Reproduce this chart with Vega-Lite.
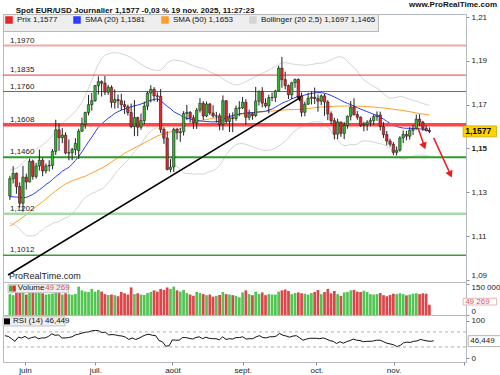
{
"$schema":"https://vega.github.io/schema/vega-lite/v6.json",
"padding":0,
"background":"#ffffff",
"spacing":0,
"bounds":"flush",
"title":{"text":"Spot EUR/USD Journalier 1,1577 -0,03 % 19 nov. 2025, 11:27:23","anchor":"start","frame":"bounds","fontSize":8,"fontWeight":"bold","font":"Liberation Sans","color":"#111111","dx":15,"offset":-14},
"config":{"font":"Liberation Sans","view":{"stroke":"#b4bac2","strokeWidth":1},"axis":{"labelFont":"Liberation Sans","labelFontSize":8,"labelColor":"#222222","tickColor":"#8a8f96","domainColor":"#b4bac2","tickSize":3,"labelPadding":2,"grid":false,"title":null}},
"resolve":{"scale":{"color":"independent","x":"independent","y":"independent"},"legend":{"color":"independent"}},
"datasets":{
"levels":[{"lvl":1.197,"lab":"1,1970"},{"lvl":1.1835,"lab":"1,1835"},{"lvl":1.176,"lab":"1,1760"},{"lvl":1.1608,"lab":"1,1608"},{"lvl":1.146,"lab":"1,1460"},{"lvl":1.1202,"lab":"1,1202"},{"lvl":1.1012,"lab":"1,1012"}],
"d":[
{"i":-6,"o":1.1283,"h":1.1375,"l":1.1265,"c":1.1362,"v":100000,"r":60,"s20":1.128,"s50":1.1145,"bu":1.14,"bl":1.116},
{"i":-5,"o":1.1362,"h":1.1419,"l":1.134,"c":1.1386,"v":95000,"r":58,"s20":1.1279,"s50":1.1155,"bu":1.1405,"bl":1.1153},
{"i":-4,"o":1.1386,"h":1.139,"l":1.1293,"c":1.1326,"v":108000,"r":52,"s20":1.1278,"s50":1.1165,"bu":1.141,"bl":1.1146},
{"i":-3,"o":1.1326,"h":1.1345,"l":1.123,"c":1.125,"v":105000,"r":45,"s20":1.1276,"s50":1.1175,"bu":1.142,"bl":1.1132},
{"i":-2,"o":1.125,"h":1.142,"l":1.1211,"c":1.1369,"v":110000,"r":56,"s20":1.1275,"s50":1.1186,"bu":1.1435,"bl":1.1115},
{"i":-1,"o":1.1369,"h":1.1385,"l":1.1312,"c":1.1347,"v":98000,"r":54,"s20":1.1276,"s50":1.1197,"bu":1.145,"bl":1.1102},
{"i":0,"o":1.1347,"h":1.1454,"l":1.1345,"c":1.1442,"v":112000,"r":58,"s20":1.1283,"s50":1.121,"bu":1.1465,"bl":1.1101},
{"i":1,"o":1.1442,"h":1.1449,"l":1.1357,"c":1.1372,"v":110000,"r":52,"s20":1.129,"s50":1.1222,"bu":1.148,"bl":1.11},
{"i":2,"o":1.1372,"h":1.1434,"l":1.1362,"c":1.142,"v":105000,"r":55,"s20":1.13,"s50":1.1234,"bu":1.1495,"bl":1.1105},
{"i":3,"o":1.142,"h":1.1495,"l":1.1399,"c":1.1446,"v":108000,"r":57,"s20":1.1312,"s50":1.1246,"bu":1.1505,"bl":1.1119},
{"i":4,"o":1.1446,"h":1.1456,"l":1.1373,"c":1.1397,"v":104000,"r":52,"s20":1.1322,"s50":1.1257,"bu":1.1515,"bl":1.1129},
{"i":5,"o":1.1397,"h":1.1431,"l":1.1385,"c":1.142,"v":98000,"r":54,"s20":1.1335,"s50":1.127,"bu":1.1528,"bl":1.1142},
{"i":6,"o":1.142,"h":1.1446,"l":1.1395,"c":1.1423,"v":100000,"r":54,"s20":1.1345,"s50":1.1282,"bu":1.1542,"bl":1.1148},
{"i":7,"o":1.1423,"h":1.1497,"l":1.1405,"c":1.1487,"v":103000,"r":58,"s20":1.1358,"s50":1.1294,"bu":1.1558,"bl":1.1158},
{"i":8,"o":1.1487,"h":1.1631,"l":1.147,"c":1.1585,"v":112000,"r":65,"s20":1.1371,"s50":1.1306,"bu":1.158,"bl":1.1162},
{"i":9,"o":1.1585,"h":1.1614,"l":1.1489,"c":1.1549,"v":108000,"r":61,"s20":1.1383,"s50":1.1318,"bu":1.16,"bl":1.1166},
{"i":10,"o":1.1549,"h":1.1593,"l":1.1524,"c":1.1561,"v":98000,"r":62,"s20":1.1396,"s50":1.1328,"bu":1.1615,"bl":1.1177},
{"i":11,"o":1.1561,"h":1.1574,"l":1.1473,"c":1.1479,"v":104000,"r":54,"s20":1.1405,"s50":1.1338,"bu":1.1628,"bl":1.1182},
{"i":12,"o":1.1479,"h":1.1541,"l":1.1446,"c":1.148,"v":100000,"r":54,"s20":1.1414,"s50":1.1345,"bu":1.164,"bl":1.1188},
{"i":13,"o":1.148,"h":1.1503,"l":1.1446,"c":1.1495,"v":97000,"r":55,"s20":1.1428,"s50":1.1352,"bu":1.1655,"bl":1.1201},
{"i":14,"o":1.1495,"h":1.1547,"l":1.1469,"c":1.1523,"v":101000,"r":57,"s20":1.1445,"s50":1.1358,"bu":1.167,"bl":1.122},
{"i":15,"o":1.149,"h":1.159,"l":1.1452,"c":1.1579,"v":136000,"r":62,"s20":1.1463,"s50":1.1363,"bu":1.169,"bl":1.1236},
{"i":16,"o":1.1579,"h":1.1641,"l":1.1575,"c":1.161,"v":118000,"r":64,"s20":1.1485,"s50":1.1368,"bu":1.171,"bl":1.126},
{"i":17,"o":1.161,"h":1.1668,"l":1.159,"c":1.1664,"v":112000,"r":67,"s20":1.1508,"s50":1.1373,"bu":1.174,"bl":1.1276},
{"i":18,"o":1.1664,"h":1.1744,"l":1.1651,"c":1.17,"v":110000,"r":69,"s20":1.153,"s50":1.138,"bu":1.1775,"bl":1.1285},
{"i":19,"o":1.17,"h":1.1754,"l":1.1673,"c":1.1718,"v":125000,"r":70,"s20":1.1552,"s50":1.1388,"bu":1.181,"bl":1.1294},
{"i":20,"o":1.1718,"h":1.1789,"l":1.1713,"c":1.1787,"v":112000,"r":73,"s20":1.1575,"s50":1.1395,"bu":1.185,"bl":1.13},
{"i":21,"o":1.1787,"h":1.1829,"l":1.1746,"c":1.1805,"v":120000,"r":74,"s20":1.1597,"s50":1.1403,"bu":1.1885,"bl":1.1309},
{"i":22,"o":1.1805,"h":1.1811,"l":1.1737,"c":1.1798,"v":112000,"r":73,"s20":1.1612,"s50":1.141,"bu":1.191,"bl":1.1314},
{"i":23,"o":1.1798,"h":1.1831,"l":1.1744,"c":1.1757,"v":100000,"r":68,"s20":1.1625,"s50":1.1418,"bu":1.1925,"bl":1.1325},
{"i":24,"o":1.1757,"h":1.179,"l":1.1745,"c":1.1779,"v":96000,"r":69,"s20":1.1638,"s50":1.1428,"bu":1.1932,"bl":1.1344},
{"i":25,"o":1.1779,"h":1.1788,"l":1.1686,"c":1.171,"v":98000,"r":62,"s20":1.1648,"s50":1.1438,"bu":1.1936,"bl":1.136},
{"i":26,"o":1.171,"h":1.177,"l":1.1682,"c":1.1723,"v":95000,"r":63,"s20":1.166,"s50":1.1448,"bu":1.1937,"bl":1.1383},
{"i":27,"o":1.1723,"h":1.1746,"l":1.1684,"c":1.1718,"v":90000,"r":62,"s20":1.1668,"s50":1.1458,"bu":1.1936,"bl":1.14},
{"i":28,"o":1.1718,"h":1.175,"l":1.1675,"c":1.17,"v":110000,"r":60,"s20":1.1675,"s50":1.1467,"bu":1.1933,"bl":1.1417},
{"i":29,"o":1.17,"h":1.1719,"l":1.1657,"c":1.169,"v":104000,"r":59,"s20":1.168,"s50":1.1478,"bu":1.1928,"bl":1.1432},
{"i":30,"o":1.169,"h":1.17,"l":1.165,"c":1.1664,"v":98000,"r":56,"s20":1.1685,"s50":1.1486,"bu":1.1922,"bl":1.1448},
{"i":31,"o":1.1664,"h":1.1705,"l":1.1592,"c":1.16,"v":132000,"r":50,"s20":1.169,"s50":1.1494,"bu":1.1915,"bl":1.1465},
{"i":32,"o":1.16,"h":1.1721,"l":1.1556,"c":1.1641,"v":100000,"r":54,"s20":1.1695,"s50":1.1502,"bu":1.1905,"bl":1.1485},
{"i":33,"o":1.1641,"h":1.1645,"l":1.1556,"c":1.1597,"v":104000,"r":50,"s20":1.1698,"s50":1.151,"bu":1.1895,"bl":1.1501},
{"i":34,"o":1.1597,"h":1.166,"l":1.1585,"c":1.1627,"v":98000,"r":53,"s20":1.1703,"s50":1.1517,"bu":1.1885,"bl":1.1521},
{"i":35,"o":1.1627,"h":1.1714,"l":1.161,"c":1.1693,"v":96000,"r":58,"s20":1.1708,"s50":1.1525,"bu":1.1875,"bl":1.1541},
{"i":36,"o":1.1693,"h":1.176,"l":1.1675,"c":1.1753,"v":105000,"r":62,"s20":1.1716,"s50":1.1533,"bu":1.1868,"bl":1.1564},
{"i":37,"o":1.1753,"h":1.1789,"l":1.171,"c":1.177,"v":110000,"r":64,"s20":1.172,"s50":1.1541,"bu":1.1862,"bl":1.1578},
{"i":38,"o":1.177,"h":1.178,"l":1.1715,"c":1.174,"v":118000,"r":61,"s20":1.1724,"s50":1.1549,"bu":1.1858,"bl":1.159},
{"i":39,"o":1.174,"h":1.1756,"l":1.1712,"c":1.1738,"v":112000,"r":60,"s20":1.1726,"s50":1.1557,"bu":1.1856,"bl":1.1596},
{"i":40,"o":1.1738,"h":1.1771,"l":1.1571,"c":1.1587,"v":125000,"r":47,"s20":1.1718,"s50":1.1563,"bu":1.1858,"bl":1.1578},
{"i":41,"o":1.1587,"h":1.1597,"l":1.1521,"c":1.1547,"v":120000,"r":44,"s20":1.1705,"s50":1.1568,"bu":1.187,"bl":1.154},
{"i":42,"o":1.1547,"h":1.1578,"l":1.14,"c":1.1404,"v":132000,"r":32,"s20":1.1692,"s50":1.1572,"bu":1.189,"bl":1.1494},
{"i":43,"o":1.1404,"h":1.1451,"l":1.1391,"c":1.1415,"v":125000,"r":33,"s20":1.1682,"s50":1.1576,"bu":1.19,"bl":1.1464},
{"i":44,"o":1.1415,"h":1.1595,"l":1.1392,"c":1.1587,"v":136000,"r":49,"s20":1.1668,"s50":1.158,"bu":1.1904,"bl":1.1432},
{"i":45,"o":1.1587,"h":1.1594,"l":1.154,"c":1.1572,"v":118000,"r":48,"s20":1.166,"s50":1.1585,"bu":1.1902,"bl":1.1418},
{"i":46,"o":1.1572,"h":1.1594,"l":1.153,"c":1.1576,"v":112000,"r":48,"s20":1.1652,"s50":1.159,"bu":1.19,"bl":1.1404},
{"i":47,"o":1.1576,"h":1.167,"l":1.1559,"c":1.166,"v":120000,"r":55,"s20":1.1642,"s50":1.1598,"bu":1.1896,"bl":1.1388},
{"i":48,"o":1.166,"h":1.1699,"l":1.163,"c":1.1665,"v":105000,"r":55,"s20":1.1638,"s50":1.1604,"bu":1.189,"bl":1.1386},
{"i":49,"o":1.1665,"h":1.167,"l":1.1617,"c":1.164,"v":98000,"r":53,"s20":1.1635,"s50":1.1609,"bu":1.1884,"bl":1.1386},
{"i":50,"o":1.164,"h":1.1653,"l":1.1589,"c":1.1617,"v":92000,"r":51,"s20":1.163,"s50":1.1614,"bu":1.1878,"bl":1.1382},
{"i":51,"o":1.1617,"h":1.1685,"l":1.1589,"c":1.1675,"v":110000,"r":55,"s20":1.1628,"s50":1.1619,"bu":1.1872,"bl":1.1384},
{"i":52,"o":1.1675,"h":1.173,"l":1.1664,"c":1.1706,"v":105000,"r":57,"s20":1.1626,"s50":1.1624,"bu":1.1868,"bl":1.1384},
{"i":53,"o":1.1706,"h":1.1716,"l":1.163,"c":1.1648,"v":100000,"r":52,"s20":1.1624,"s50":1.1629,"bu":1.1866,"bl":1.1382},
{"i":54,"o":1.1648,"h":1.1714,"l":1.1643,"c":1.1703,"v":95000,"r":56,"s20":1.1623,"s50":1.1632,"bu":1.1858,"bl":1.1388},
{"i":55,"o":1.1703,"h":1.1708,"l":1.1652,"c":1.1662,"v":98000,"r":53,"s20":1.1622,"s50":1.1635,"bu":1.185,"bl":1.1394},
{"i":56,"o":1.1662,"h":1.1697,"l":1.1641,"c":1.1648,"v":88000,"r":52,"s20":1.1621,"s50":1.1638,"bu":1.1843,"bl":1.1399},
{"i":57,"o":1.1648,"h":1.1667,"l":1.1618,"c":1.1649,"v":92000,"r":52,"s20":1.1622,"s50":1.164,"bu":1.1836,"bl":1.1408},
{"i":58,"o":1.1649,"h":1.166,"l":1.1583,"c":1.1609,"v":96000,"r":49,"s20":1.1625,"s50":1.1642,"bu":1.1828,"bl":1.1422},
{"i":59,"o":1.1609,"h":1.1742,"l":1.1583,"c":1.1718,"v":110000,"r":57,"s20":1.1632,"s50":1.1644,"bu":1.1818,"bl":1.1446},
{"i":60,"o":1.1718,"h":1.172,"l":1.1613,"c":1.1623,"v":100000,"r":50,"s20":1.164,"s50":1.1646,"bu":1.1808,"bl":1.1472},
{"i":61,"o":1.1623,"h":1.166,"l":1.1575,"c":1.164,"v":98000,"r":52,"s20":1.1645,"s50":1.1648,"bu":1.18,"bl":1.149},
{"i":62,"o":1.164,"h":1.1665,"l":1.1574,"c":1.1637,"v":95000,"r":51,"s20":1.165,"s50":1.165,"bu":1.1794,"bl":1.1506},
{"i":63,"o":1.1637,"h":1.1696,"l":1.1626,"c":1.1683,"v":92000,"r":55,"s20":1.1654,"s50":1.1653,"bu":1.179,"bl":1.1518},
{"i":64,"o":1.1683,"h":1.1716,"l":1.1647,"c":1.1685,"v":85000,"r":55,"s20":1.1657,"s50":1.1655,"bu":1.1792,"bl":1.1522},
{"i":65,"o":1.1685,"h":1.1735,"l":1.168,"c":1.1711,"v":108000,"r":57,"s20":1.166,"s50":1.1657,"bu":1.1798,"bl":1.1522},
{"i":66,"o":1.1711,"h":1.1725,"l":1.1608,"c":1.1642,"v":118000,"r":51,"s20":1.1662,"s50":1.1659,"bu":1.1805,"bl":1.1519},
{"i":67,"o":1.1642,"h":1.1677,"l":1.1629,"c":1.1658,"v":100000,"r":52,"s20":1.1663,"s50":1.1661,"bu":1.1813,"bl":1.1513},
{"i":68,"o":1.1658,"h":1.1665,"l":1.1631,"c":1.165,"v":95000,"r":52,"s20":1.1664,"s50":1.1662,"bu":1.182,"bl":1.1508},
{"i":69,"o":1.165,"h":1.1781,"l":1.1643,"c":1.1716,"v":112000,"r":57,"s20":1.1665,"s50":1.1664,"bu":1.1828,"bl":1.1502},
{"i":70,"o":1.1716,"h":1.1764,"l":1.1696,"c":1.1761,"v":100000,"r":60,"s20":1.1667,"s50":1.1666,"bu":1.1836,"bl":1.1498},
{"i":71,"o":1.1761,"h":1.178,"l":1.1688,"c":1.1707,"v":108000,"r":55,"s20":1.1668,"s50":1.1667,"bu":1.1843,"bl":1.1493},
{"i":72,"o":1.1707,"h":1.1729,"l":1.1686,"c":1.1694,"v":95000,"r":54,"s20":1.167,"s50":1.1669,"bu":1.185,"bl":1.149},
{"i":73,"o":1.1694,"h":1.1745,"l":1.166,"c":1.1732,"v":100000,"r":57,"s20":1.1675,"s50":1.167,"bu":1.1858,"bl":1.1492},
{"i":74,"o":1.1732,"h":1.1755,"l":1.1715,"c":1.1733,"v":98000,"r":57,"s20":1.168,"s50":1.1671,"bu":1.1866,"bl":1.1494},
{"i":75,"o":1.1733,"h":1.1768,"l":1.1712,"c":1.1762,"v":98000,"r":59,"s20":1.1688,"s50":1.1672,"bu":1.1874,"bl":1.1502},
{"i":76,"o":1.1762,"h":1.1878,"l":1.1759,"c":1.1867,"v":112000,"r":66,"s20":1.1697,"s50":1.1674,"bu":1.1884,"bl":1.151},
{"i":77,"o":1.1867,"h":1.1918,"l":1.1777,"c":1.1814,"v":118000,"r":61,"s20":1.1706,"s50":1.1675,"bu":1.189,"bl":1.1522},
{"i":78,"o":1.1814,"h":1.1851,"l":1.177,"c":1.1787,"v":122000,"r":59,"s20":1.1713,"s50":1.1676,"bu":1.1892,"bl":1.1534},
{"i":79,"o":1.1787,"h":1.1792,"l":1.1726,"c":1.1745,"v":115000,"r":56,"s20":1.1718,"s50":1.1677,"bu":1.1889,"bl":1.1547},
{"i":80,"o":1.1745,"h":1.1805,"l":1.1725,"c":1.18,"v":100000,"r":59,"s20":1.1727,"s50":1.1677,"bu":1.1886,"bl":1.1568},
{"i":81,"o":1.18,"h":1.1819,"l":1.1777,"c":1.1815,"v":105000,"r":60,"s20":1.1732,"s50":1.1678,"bu":1.1884,"bl":1.158},
{"i":82,"o":1.1815,"h":1.182,"l":1.1729,"c":1.1738,"v":108000,"r":54,"s20":1.1737,"s50":1.1678,"bu":1.1882,"bl":1.1592},
{"i":83,"o":1.1738,"h":1.1755,"l":1.1645,"c":1.1665,"v":104000,"r":48,"s20":1.174,"s50":1.1679,"bu":1.1881,"bl":1.1599},
{"i":84,"o":1.1665,"h":1.1714,"l":1.1647,"c":1.1702,"v":102000,"r":51,"s20":1.1744,"s50":1.168,"bu":1.188,"bl":1.1608},
{"i":85,"o":1.1702,"h":1.1754,"l":1.1699,"c":1.1729,"v":98000,"r":53,"s20":1.1748,"s50":1.1682,"bu":1.1881,"bl":1.1615},
{"i":86,"o":1.1729,"h":1.176,"l":1.1701,"c":1.1734,"v":105000,"r":53,"s20":1.1751,"s50":1.1684,"bu":1.1883,"bl":1.1619},
{"i":87,"o":1.1734,"h":1.1778,"l":1.1703,"c":1.1728,"v":110000,"r":53,"s20":1.1754,"s50":1.1686,"bu":1.1886,"bl":1.1622},
{"i":88,"o":1.1728,"h":1.1746,"l":1.1668,"c":1.1716,"v":120000,"r":52,"s20":1.1755,"s50":1.1688,"bu":1.1889,"bl":1.1621},
{"i":89,"o":1.1716,"h":1.1747,"l":1.1698,"c":1.174,"v":100000,"r":54,"s20":1.1755,"s50":1.1689,"bu":1.1889,"bl":1.1621},
{"i":90,"o":1.174,"h":1.175,"l":1.1649,"c":1.1712,"v":110000,"r":51,"s20":1.1752,"s50":1.169,"bu":1.1892,"bl":1.1612},
{"i":91,"o":1.1712,"h":1.1721,"l":1.1629,"c":1.1658,"v":125000,"r":47,"s20":1.1748,"s50":1.1691,"bu":1.1898,"bl":1.1598},
{"i":92,"o":1.1658,"h":1.1669,"l":1.1611,"c":1.1627,"v":104000,"r":45,"s20":1.1742,"s50":1.1692,"bu":1.1904,"bl":1.158},
{"i":93,"o":1.1627,"h":1.164,"l":1.1541,"c":1.1565,"v":115000,"r":39,"s20":1.1735,"s50":1.1692,"bu":1.1912,"bl":1.1558},
{"i":94,"o":1.1565,"h":1.1636,"l":1.1542,"c":1.1621,"v":100000,"r":44,"s20":1.1728,"s50":1.1693,"bu":1.1918,"bl":1.1538},
{"i":95,"o":1.1621,"h":1.1622,"l":1.1553,"c":1.1569,"v":92000,"r":40,"s20":1.172,"s50":1.1693,"bu":1.1919,"bl":1.1521},
{"i":96,"o":1.1569,"h":1.1621,"l":1.1542,"c":1.1605,"v":108000,"r":44,"s20":1.1712,"s50":1.1694,"bu":1.1912,"bl":1.1512},
{"i":97,"o":1.1605,"h":1.1651,"l":1.159,"c":1.1647,"v":110000,"r":47,"s20":1.1706,"s50":1.1694,"bu":1.1898,"bl":1.1514},
{"i":98,"o":1.1647,"h":1.1717,"l":1.1628,"c":1.1689,"v":118000,"r":51,"s20":1.17,"s50":1.1694,"bu":1.1882,"bl":1.1518},
{"i":99,"o":1.1689,"h":1.1729,"l":1.165,"c":1.1655,"v":120000,"r":48,"s20":1.1693,"s50":1.1694,"bu":1.187,"bl":1.1516},
{"i":100,"o":1.1655,"h":1.1671,"l":1.1631,"c":1.1643,"v":112000,"r":47,"s20":1.1686,"s50":1.1693,"bu":1.1852,"bl":1.152},
{"i":101,"o":1.1643,"h":1.1646,"l":1.1598,"c":1.1605,"v":110000,"r":44,"s20":1.168,"s50":1.1693,"bu":1.183,"bl":1.153},
{"i":102,"o":1.1605,"h":1.1622,"l":1.1578,"c":1.161,"v":116000,"r":45,"s20":1.1674,"s50":1.1692,"bu":1.1813,"bl":1.1535},
{"i":103,"o":1.161,"h":1.1629,"l":1.1581,"c":1.162,"v":110000,"r":45,"s20":1.1668,"s50":1.1691,"bu":1.1802,"bl":1.1534},
{"i":104,"o":1.162,"h":1.164,"l":1.1601,"c":1.1627,"v":100000,"r":46,"s20":1.1662,"s50":1.169,"bu":1.1792,"bl":1.1532},
{"i":105,"o":1.1627,"h":1.1656,"l":1.1608,"c":1.1645,"v":98000,"r":48,"s20":1.1656,"s50":1.1689,"bu":1.1784,"bl":1.1528},
{"i":106,"o":1.1645,"h":1.1669,"l":1.1626,"c":1.1653,"v":100000,"r":48,"s20":1.165,"s50":1.1688,"bu":1.1775,"bl":1.1525},
{"i":107,"o":1.1653,"h":1.1668,"l":1.1582,"c":1.16,"v":105000,"r":44,"s20":1.1643,"s50":1.1686,"bu":1.1764,"bl":1.1522},
{"i":108,"o":1.16,"h":1.162,"l":1.1548,"c":1.1563,"v":95000,"r":40,"s20":1.1634,"s50":1.1685,"bu":1.175,"bl":1.1518},
{"i":109,"o":1.1563,"h":1.158,"l":1.1514,"c":1.1534,"v":90000,"r":38,"s20":1.1624,"s50":1.1683,"bu":1.1738,"bl":1.151},
{"i":110,"o":1.1534,"h":1.1545,"l":1.1508,"c":1.1519,"v":96000,"r":36,"s20":1.1614,"s50":1.1681,"bu":1.1729,"bl":1.1499},
{"i":111,"o":1.1519,"h":1.1529,"l":1.1469,"c":1.1482,"v":102000,"r":31,"s20":1.1605,"s50":1.1679,"bu":1.173,"bl":1.148},
{"i":112,"o":1.1482,"h":1.1509,"l":1.1468,"c":1.1492,"v":100000,"r":34,"s20":1.16,"s50":1.1677,"bu":1.1734,"bl":1.1466},
{"i":113,"o":1.1492,"h":1.1556,"l":1.1485,"c":1.1548,"v":104000,"r":41,"s20":1.1596,"s50":1.1675,"bu":1.1737,"bl":1.1455},
{"i":114,"o":1.1548,"h":1.1582,"l":1.1524,"c":1.1564,"v":100000,"r":43,"s20":1.1593,"s50":1.1673,"bu":1.1735,"bl":1.1451},
{"i":115,"o":1.1564,"h":1.158,"l":1.1537,"c":1.1556,"v":94000,"r":42,"s20":1.1592,"s50":1.167,"bu":1.173,"bl":1.1454},
{"i":116,"o":1.1556,"h":1.1597,"l":1.154,"c":1.1583,"v":98000,"r":45,"s20":1.1592,"s50":1.1668,"bu":1.1724,"bl":1.146},
{"i":117,"o":1.1583,"h":1.1608,"l":1.1561,"c":1.159,"v":102000,"r":46,"s20":1.1592,"s50":1.1665,"bu":1.172,"bl":1.1464},
{"i":118,"o":1.159,"h":1.1655,"l":1.1585,"c":1.1634,"v":104000,"r":50,"s20":1.1592,"s50":1.1662,"bu":1.1716,"bl":1.1468},
{"i":119,"o":1.1634,"h":1.1656,"l":1.1602,"c":1.162,"v":100000,"r":48,"s20":1.159,"s50":1.1659,"bu":1.171,"bl":1.147},
{"i":120,"o":1.162,"h":1.1626,"l":1.158,"c":1.1592,"v":104000,"r":46,"s20":1.1587,"s50":1.1657,"bu":1.1705,"bl":1.1469},
{"i":121,"o":1.1592,"h":1.1605,"l":1.1577,"c":1.1582,"v":102000,"r":45,"s20":1.1584,"s50":1.1655,"bu":1.1701,"bl":1.1467},
{"i":122,"o":1.1582,"h":1.1596,"l":1.157,"c":1.1577,"v":49269,"r":46.449,"s20":1.1581,"s50":1.1653,"bu":1.1697,"bl":1.1465}
]},
"vconcat":[
{
"width":463,"height":268,
"title":{"text":"www.ProRealTime.com","anchor":"end","frame":"bounds","fontSize":8,"fontWeight":"bold","color":"#111111","offset":4},
"data":{"name":"d"},
"layer":[
{"transform":[{"fold":["bu","bl","s50","s20"],"as":["serie","val"]}],
 "mark":{"type":"line","strokeWidth":1},
 "encoding":{
  "x":{"field":"i","type":"quantitative","scale":{"domain":[-6.57,131.64],"nice":false,"zero":false},"axis":null},
  "y":{"field":"val","type":"quantitative","scale":{"domain":[1.089,1.2114],"nice":false,"zero":false},
       "axis":{"orient":"right","values":[1.09,1.1,1.11,1.12,1.13,1.14,1.15,1.16,1.17,1.18,1.19,1.2,1.21],
               "labelExpr":"replace(format(datum.value,'.2~f'),'.',',')",
               "labelBaseline":{"condition":{"test":"datum.value==1.09","value":"bottom"},"value":"middle"},
               "labelFontWeight":{"condition":{"test":"datum.value==1.2||datum.value==1.15||datum.value==1.1","value":"bold"},"value":"normal"}}},
  "color":{"field":"serie","type":"nominal",
    "scale":{"domain":["prix","s20","s50","bu","bl"],"range":["#e3262a","#2a3cff","#ff9d2a","#d4d4d4","#d4d4d4"]},
    "legend":{"orient":"top-left","direction":"horizontal","title":null,"values":["prix","s20","s50","bu"],
      "labelExpr":"datum.value=='prix'?'Prix 1,1577':datum.value=='s20'?'SMA (20) 1,1581':datum.value=='s50'?'SMA (50) 1,1653':'Bollinger (20 2,5) 1,1697 1,1465'",
      "symbolType":"square","symbolSize":16,"symbolStrokeWidth":3.5,"fillColor":"#eeeeee","strokeColor":"#b8b8b8","padding":2,"offset":0,
      "labelFontSize":8,"labelColor":"#111111","columnPadding":10,"labelOffset":4}}
 }},
{"data":{"values":[{}]},"mark":{"type":"rule","color":"#f4a6a6","strokeWidth":2},"encoding":{"y":{"datum":1.197}}},
{"data":{"values":[{}]},"mark":{"type":"rule","color":"#e03a3a","strokeWidth":1},"encoding":{"y":{"datum":1.1835}}},
{"data":{"values":[{}]},"mark":{"type":"rule","color":"#e03a3a","strokeWidth":1},"encoding":{"y":{"datum":1.176}}},
{"data":{"values":[{}]},"mark":{"type":"rule","color":"#ff4545","strokeWidth":3.5},"encoding":{"y":{"datum":1.1608}}},
{"data":{"values":[{}]},"mark":{"type":"rule","color":"#2b9b2b","strokeWidth":2},"encoding":{"y":{"datum":1.146}}},
{"data":{"values":[{}]},"mark":{"type":"rule","color":"#a6d9a6","strokeWidth":2.5},"encoding":{"y":{"datum":1.1202}}},
{"data":{"values":[{}]},"mark":{"type":"rule","color":"#3d9a3d","strokeWidth":1.5},"encoding":{"y":{"datum":1.1012}}},
{"data":{"name":"levels"},"mark":{"type":"text","align":"left","baseline":"bottom","dx":2,"dy":-1,"fontSize":8,"color":"#222222"},
 "encoding":{"x":{"datum":-6.57},"y":{"field":"lvl","type":"quantitative"},"text":{"field":"lab"}}},
{"data":{"values":[{}]},"mark":{"type":"rule","color":"#000000","strokeWidth":1.5},"encoding":{"x":{"datum":-6.57},"y":{"datum":1.0922},"x2":{"datum":82.1},"y2":{"datum":1.1728}}},
{"data":{"values":[{}]},"mark":{"type":"point","shape":"triangle-right","filled":true,"color":"#000000","opacity":1,"size":45,"angle":-31},"encoding":{"x":{"datum":82.7},"y":{"datum":1.1733}}},
{"mark":{"type":"rule","color":"#222222","strokeWidth":1},
 "encoding":{"x":{"field":"i","type":"quantitative"},"y":{"field":"l","type":"quantitative"},"y2":{"field":"h"}}},
{"mark":{"type":"bar","size":2.4,"stroke":"#222222","strokeWidth":0.6},
 "encoding":{"x":{"field":"i","type":"quantitative"},"y":{"field":"o","type":"quantitative"},"y2":{"field":"c"},
  "color":{"condition":{"test":"datum.c>=datum.o","value":"#2fbd2f"},"value":"#e8262a"}}},
{"data":{"values":[{}]},"mark":{"type":"rule","color":"#ee1c1c","strokeWidth":1.5},"encoding":{"x":{"datum":118.5},"y":{"datum":1.1594},"x2":{"datum":120.3},"y2":{"datum":1.1518}}},
{"data":{"values":[{}]},"mark":{"type":"point","shape":"triangle-right","filled":true,"color":"#ee1c1c","opacity":1,"size":60,"angle":70},"encoding":{"x":{"datum":120.4},"y":{"datum":1.1511}}},
{"data":{"values":[{}]},"mark":{"type":"rule","color":"#ee1c1c","strokeWidth":1.5},"encoding":{"x":{"datum":123.3},"y":{"datum":1.1548},"x2":{"datum":128.3},"y2":{"datum":1.1385}}},
{"data":{"values":[{}]},"mark":{"type":"point","shape":"triangle-right","filled":true,"color":"#ee1c1c","opacity":1,"size":60,"angle":65},"encoding":{"x":{"datum":128.4},"y":{"datum":1.1381}}},
{"data":{"values":[{}]},"mark":{"type":"text","align":"left","baseline":"bottom","dx":1,"dy":-1,"fontSize":9,"color":"#222222"},"encoding":{"x":{"datum":-6.57},"y":{"datum":1.089},"text":{"value":"ProRealTime.com"}}},
{"data":{"values":[{}]},"mark":{"type":"rect","fill":"#ffd400","stroke":"#c9a200","strokeWidth":0.8},"encoding":{"x":{"datum":132.3},"x2":{"datum":142.5},"y":{"datum":1.1603},"y2":{"datum":1.1553}}},
{"data":{"values":[{}]},"mark":{"type":"text","align":"left","baseline":"middle","dx":2,"fontSize":8.5,"fontWeight":"bold","color":"#000000"},"encoding":{"x":{"datum":132.3},"y":{"datum":1.1578},"text":{"value":"1,1577"}}}
]
},
{
"width":463,"height":33,
"data":{"name":"d"},
"layer":[
{"mark":{"type":"bar","size":2.7},
 "encoding":{"x":{"field":"i","type":"quantitative","scale":{"domain":[-6.57,131.64],"nice":false,"zero":false},"axis":null},
  "y":{"field":"v","type":"quantitative","scale":{"domain":[0,158000],"nice":false},
       "axis":{"orient":"right","values":[0,100000,150000],"labelExpr":"datum.value==0?'0':format(datum.value/1000,'d')+' 000'",
               "labelBaseline":{"condition":[{"test":"datum.value==150000","value":"top"},{"test":"datum.value==0","value":"bottom"}],"value":"middle"}}},
  "color":{"condition":{"test":"datum.c>=datum.o","value":"#52c452"},"value":"#d9474a"}}},
{"data":{"values":[{}]},"mark":{"type":"rect","fill":"#eeeeee","stroke":"#b8b8b8","strokeWidth":0.8},"encoding":{"x":{"datum":-6.57},"x2":{"datum":11.94},"y":{"datum":147000},"y2":{"datum":106800}}},
{"data":{"values":[{}]},"mark":{"type":"rect","fill":"#2fbd2f"},"encoding":{"x":{"datum":-6.27},"x2":{"datum":-5.23},"y":{"datum":141000},"y2":{"datum":112500}}},
{"data":{"values":[{}]},"mark":{"type":"rect","fill":"#e8262a"},"encoding":{"x":{"datum":-5.23},"x2":{"datum":-4.18},"y":{"datum":141000},"y2":{"datum":112500}}},
{"data":{"values":[{}]},"mark":{"type":"text","align":"left","baseline":"middle","fontSize":8,"color":"#111111"},"encoding":{"x":{"datum":-3.58},"y":{"datum":127000},"text":{"value":"Volume"}}},
{"data":{"values":[{}]},"mark":{"type":"text","align":"left","baseline":"middle","fontSize":8,"color":"#e05050"},"encoding":{"x":{"datum":4.77},"y":{"datum":127000},"text":{"value":"49 269"}}},
{"data":{"values":[{}]},"mark":{"type":"rect","fill":"#ffffff","stroke":"#e8a0a0","strokeWidth":0.8},"encoding":{"x":{"datum":132.3},"x2":{"datum":142.5},"y":{"datum":80000},"y2":{"datum":48000}}},
{"data":{"values":[{}]},"mark":{"type":"text","align":"left","baseline":"middle","dx":2,"fontSize":8,"color":"#e05050"},"encoding":{"x":{"datum":132.3},"y":{"datum":64000},"text":{"value":"49 269"}}}
]
},
{
"width":463,"height":47,
"data":{"name":"d"},
"layer":[
{"mark":{"type":"line","color":"#111111","strokeWidth":1},
 "encoding":{"x":{"field":"i","type":"quantitative","scale":{"domain":[-6.57,131.64],"nice":false,"zero":false},
   "axis":{"orient":"bottom","values":[0,21,44,65,87,110,131],"domain":false,"tickSize":3,"labelPadding":1,
     "labelExpr":"datum.value==0?'juin':datum.value==21?'juil.':datum.value==44?'août':datum.value==65?'sept.':datum.value==87?'oct.':datum.value==110?'nov.':''"}},
  "y":{"field":"r","type":"quantitative","scale":{"domain":[-10,115],"nice":false,"zero":false},"axis":{"orient":"right","values":[0,100]}}}},
{"data":{"values":[{}]},"mark":{"type":"rule","color":"#9a9a9a","strokeWidth":0.8,"strokeDash":[3,3]},"encoding":{"y":{"datum":70}}},
{"data":{"values":[{}]},"mark":{"type":"rule","color":"#9a9a9a","strokeWidth":0.8,"strokeDash":[3,3]},"encoding":{"y":{"datum":30}}},
{"data":{"values":[{}]},"mark":{"type":"rect","fill":"#eeeeee","stroke":"#b8b8b8","strokeWidth":0.8},"encoding":{"x":{"datum":-6.57},"x2":{"datum":11.94},"y":{"datum":110.5},"y2":{"datum":85.7}}},
{"data":{"values":[{}]},"mark":{"type":"rect","fill":"#000000"},"encoding":{"x":{"datum":-6.27},"x2":{"datum":-4.48},"y":{"datum":106},"y2":{"datum":90}}},
{"data":{"values":[{}]},"mark":{"type":"text","align":"left","baseline":"middle","fontSize":8,"color":"#111111"},"encoding":{"x":{"datum":-3.58},"y":{"datum":98},"text":{"value":"RSI (14) 46,449"}}},
{"data":{"values":[{}]},"mark":{"type":"rect","fill":"#ffffff","stroke":"#a0a0a0","strokeWidth":0.8},"encoding":{"x":{"datum":132.3},"x2":{"datum":142.5},"y":{"datum":60},"y2":{"datum":31}}},
{"data":{"values":[{}]},"mark":{"type":"text","align":"left","baseline":"middle","dx":2,"fontSize":8,"color":"#222222"},"encoding":{"x":{"datum":132.3},"y":{"datum":46.449},"text":{"value":"46,449"}}}
]
}
]
}
